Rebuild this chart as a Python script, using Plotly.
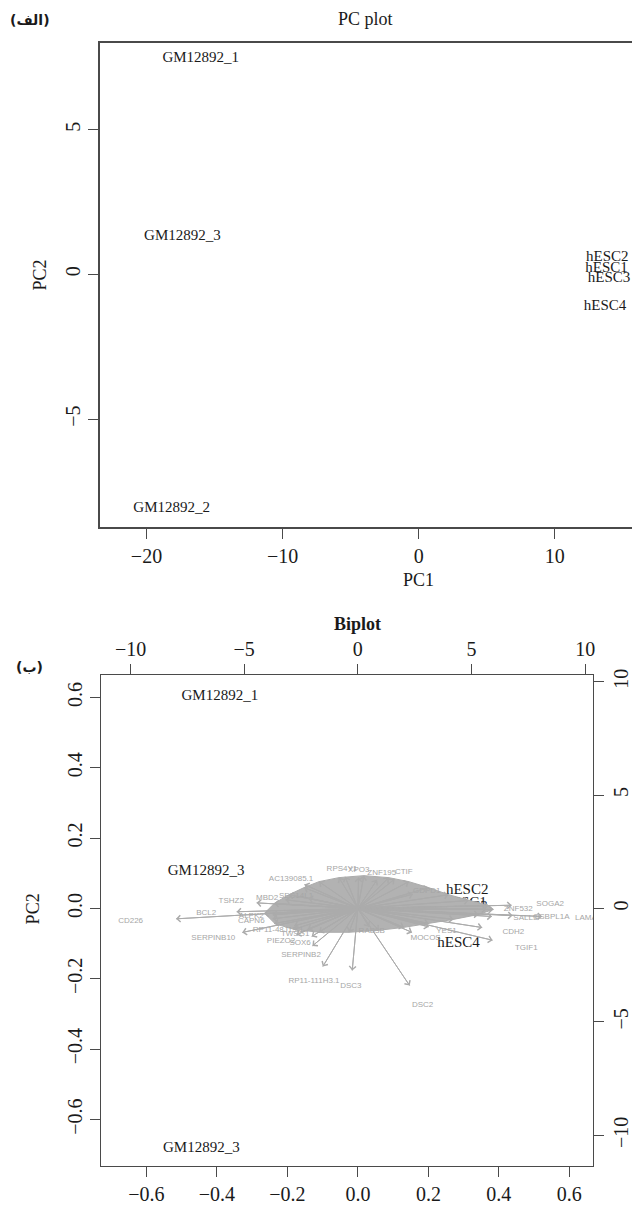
import plotly.graph_objects as go

# ---------------- Panel (الف): PC plot ----------------
pc_samples = ["GM12892_1", "GM12892_3", "GM12892_2", "hESC2", "hESC1", "hESC3", "hESC4"]
pc_pc1 = [-16.01, -17.36, -18.15, 13.87, 13.81, 13.99, 13.70]
pc_pc2 = [7.45, 1.30, -8.09, 0.60, 0.22, -0.12, -1.10]
pc_xticks = [-20, -10, 0, 10]
pc_xticktext = ["−20", "−10", "0", "10"]
pc_yticks = [-5, 0, 5]
pc_yticktext = ["−5", "0", "5"]

# ---------------- Panel (ب): Biplot ----------------
bi_samples = ["GM12892_1", "GM12892_3", "GM12892_3", "hESC2", "hESC1", "hESC3", "hESC4"]
bi_pc1 = [-0.3917, -0.4307, -0.444, 0.3102, 0.3054, 0.3083, 0.2856]
bi_pc2 = [0.6044, 0.1046, -0.6816, 0.0529, 0.0150, 0.0028, -0.0981]
bi_xticks = [-0.6, -0.4, -0.2, 0.0, 0.2, 0.4, 0.6]
bi_xticktext = ["−0.6", "−0.4", "−0.2", "0.0", "0.2", "0.4", "0.6"]
bi_yticks = [-0.6, -0.4, -0.2, 0.0, 0.2, 0.4, 0.6]
bi_yticktext = ["−0.6", "−0.4", "−0.2", "0.0", "0.2", "0.4", "0.6"]
ld_ticks = [-10, -5, 0, 5, 10]
ld_ticktext = ["−10", "−5", "0", "5", "10"]

gene_names = ["CD226", "BCL2", "SERPINB10", "TSHZ2", "MBD2", "SEC14L1", "AC139085.1",
              "RPS4Y1", "XPO3", "ZNF195", "CTIF", "ALPK2", "CAPN6", "RP11-48J19.1",
              "TWSG1", "PIEZO2", "SOX6", "SERPINB2", "RP11-111H3.1", "DSC3", "DSC2",
              "GDPD1", "ZNF532", "SOGA2", "SALL3", "OSBPL1A", "LAMA1", "CDH2", "TGIF1",
              "YES1", "MOCOS", "RAB3B"]
gene_pc1 = [-10.00, -6.67, -6.36, -5.57, -3.99, -2.72, -2.94,
            -0.70, 0.04, 1.05, 2.02, -4.69, -4.69, -3.51,
            -2.76, -3.38, -2.54, -2.50, -1.93, -0.31, 2.85,
            3.03, 7.06, 8.46, 7.37, 8.51, 10.13, 6.84, 7.41,
            3.90, 2.98, 0.61]
gene_pc2 = [-0.57, -0.18, -1.32, 0.31, 0.48, 0.57, 1.32,
            1.75, 1.71, 1.58, 1.62, -0.35, -0.57, -0.96,
            -1.14, -1.45, -1.54, -2.06, -3.20, -3.42, -4.25,
            0.79, -0.04, 0.18, -0.44, -0.39, -0.44, -1.05, -1.75,
            -1.01, -1.32, -1.01]

# dense cloud of unlabelled gene loadings (its outline)
cloud_pc1 = [-5.15, -4.60, -3.79, -2.96, -2.14, -1.04, 0.33, 1.70, 2.80, 3.89, 4.99,
             6.09, 7.19, 7.45, 6.64, 5.26, 3.89, 2.53, 1.15, -0.49, -2.14, -3.51, -4.60]
cloud_pc2 = [-0.28, 0.28, 0.76, 1.15, 1.48, 1.70, 1.81, 1.70, 1.48, 1.15, 0.76,
             0.44, 0.16, -0.05, -0.33, -0.60, -0.83, -1.04, -1.20, -1.31, -1.31, -1.15, -0.83]

ARROW_SCALE = 0.8  # R biplot draws arrows to 0.8 * loading, text at loading

SERIF = "Liberation Serif"
AXC = "#4a4a4a"
GRAY = "#ababab"

fig = go.Figure()

# PC plot labels
fig.add_trace(go.Scatter(x=pc_pc1, y=pc_pc2, mode="text", text=pc_samples,
                         textfont=dict(family=SERIF, size=15, color="#1a1a1a"),
                         xaxis="x", yaxis="y", hoverinfo="skip"))

# Biplot: cloud polygon (arrow tips of the dense unlabelled loadings)
fig.add_trace(go.Scatter(x=[ARROW_SCALE * v for v in cloud_pc1],
                         y=[ARROW_SCALE * v for v in cloud_pc2],
                         mode="lines", fill="toself", fillcolor="rgb(178,178,178)",
                         line=dict(color=GRAY, width=1),
                         xaxis="x3", yaxis="y3", hoverinfo="skip"))

# Biplot: arrow shafts
sx, sy = [], []
for u, v in list(zip(gene_pc1, gene_pc2)) + list(zip(cloud_pc1, cloud_pc2)):
    sx += [0, ARROW_SCALE * u, None]
    sy += [0, ARROW_SCALE * v, None]
fig.add_trace(go.Scatter(x=sx, y=sy, mode="lines", line=dict(color=GRAY, width=1),
                         xaxis="x3", yaxis="y3", hoverinfo="skip"))

# Biplot: gene labels
fig.add_trace(go.Scatter(x=gene_pc1, y=gene_pc2, mode="text", text=gene_names,
                         textfont=dict(family="Liberation Sans", size=8, color="#a6a6a6"),
                         xaxis="x3", yaxis="y3", hoverinfo="skip"))

# Biplot: sample labels
fig.add_trace(go.Scatter(x=bi_pc1, y=bi_pc2, mode="text", text=bi_samples,
                         textfont=dict(family=SERIF, size=15, color="#1a1a1a"),
                         xaxis="x2", yaxis="y2", hoverinfo="skip"))

annotations = []
for u, v in list(zip(gene_pc1, gene_pc2)) + list(zip(cloud_pc1, cloud_pc2)):
    annotations.append(dict(x=ARROW_SCALE * u, y=ARROW_SCALE * v, ax=0, ay=0,
                            xref="x3", yref="y3", axref="x3", ayref="y3",
                            text="", showarrow=True, arrowhead=4, arrowsize=1.3,
                            arrowwidth=1, arrowcolor=GRAY))

H = 1207.0
W = 634.0


def px(xp, yp):
    return xp / W, (H - yp) / H


def ann(text, xp, yp, size, bold=False, family=SERIF, angle=0):
    x, y = px(xp, yp)
    t = f"<b>{text}</b>" if bold else text
    return dict(text=t, x=x, y=y, xref="paper", yref="paper", showarrow=False,
                xanchor="center", yanchor="middle", textangle=angle,
                font=dict(family=family, size=size, color="#1a1a1a"))


annotations += [
    ann("PC plot", 367, 13, 18),
    ann("PC1", 420, 577, 18),
    ann("PC2", 40, 270, 18, angle=-90),
    ann("(الف)", 30, 14, 14, bold=True, family="DejaVu Sans"),
    ann("Biplot", 359, 621, 18, bold=True),
    ann("PC2", 34, 907, 18, angle=-90),
    ann("(ب)", 30, 664, 14, bold=True, family="DejaVu Sans"),
]

tickfont = dict(family=SERIF, size=20, color="#1a1a1a")
common = dict(showgrid=False, zeroline=False, ticks="outside", ticklen=10,
              tickwidth=1, tickcolor=AXC, tickfont=tickfont, linecolor=AXC, linewidth=1.2)

fig.update_layout(
    width=634, height=1207,
    margin=dict(l=0, r=0, t=0, b=0),
    paper_bgcolor="white", plot_bgcolor="white",
    showlegend=False,
    hovermode=False,
    annotations=annotations,
    xaxis=dict(domain=[100 / W, 1.0], range=[-23.44, 15.68], anchor="y",
               tickvals=pc_xticks, ticktext=pc_xticktext, showline=True, mirror=True,
               **common),
    yaxis=dict(domain=[(H - 524) / H, (H - 36.7) / H], range=[-8.745, 8.01], anchor="x",
               tickvals=pc_yticks, ticktext=pc_yticktext, tickangle=-90, showline=True,
               **common),
    xaxis2=dict(domain=[101.7 / W, 595 / W], range=[-0.7277, 0.6674], anchor="y2",
                tickvals=bi_xticks, ticktext=bi_xticktext, showline=True, mirror=True,
                **common),
    yaxis2=dict(domain=[(H - 1166) / H, (H - 672.3) / H], range=[-0.7325, 0.6637],
                anchor="x2", tickvals=bi_yticks, ticktext=bi_yticktext, tickangle=-90,
                showline=True, mirror=True, **common),
    xaxis3=dict(overlaying="x2", side="top", anchor="y2", range=[-11.285, 10.351],
                tickvals=ld_ticks, ticktext=ld_ticktext, showline=False, **common),
    yaxis3=dict(overlaying="y2", side="right", anchor="x2", range=[-11.36, 10.294],
                tickvals=ld_ticks, ticktext=ld_ticktext, tickangle=-90, showline=False,
                **common),
)

fig.write_html("out.html",
               config={"displayModeBar": False, "staticPlot": True},
               post_script="document.body.style.margin='0px';"
                           "document.body.style.overflow='hidden';")
